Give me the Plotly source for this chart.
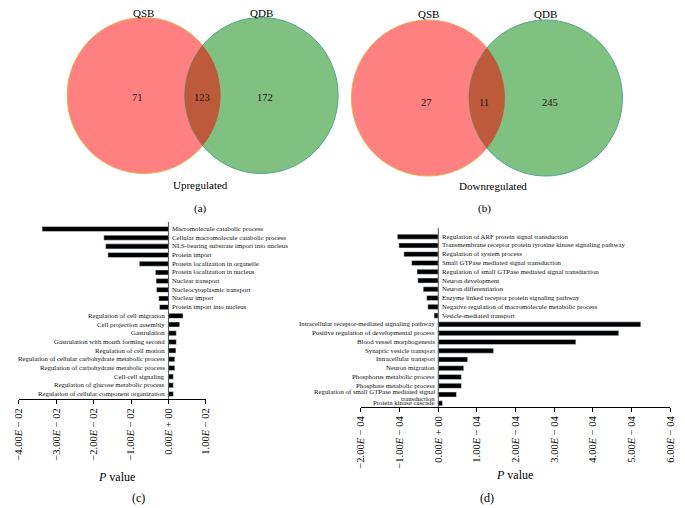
import numpy as np
import plotly.graph_objects as go

# ---------------- data ----------------
venn_sets = ["QSB", "QDB"]
up_counts = [71, 123, 172]      # QSB only, both, QDB only
down_counts = [27, 11, 245]

c_terms = [
    "Macromolecule catabolic process",
    "Cellular macromolecule catabolic process",
    "NLS-bearing substrate import into nucleus",
    "Protein import",
    "Protein localization in organelle",
    "Protein localization in nucleus",
    "Nuclear transport",
    "Nucleocytoplasmic transport",
    "Nuclear import",
    "Protein import into nucleus",
    "Regulation of cell migration",
    "Cell projection assembly",
    "Gastrulation",
    "Gastrulation with mouth forming second",
    "Regulation of cell motion",
    "Regulation of cellular carbohydrate metabolic process",
    "Regulation of carbohydrate metabolic process",
    "Cell-cell signaling",
    "Regulation of glucose metabolic process",
    "Regulation of cellular component organization",
]
c_values = [-0.0338, -0.0173, -0.0168, -0.0162, -0.0078, -0.0035, -0.0033, -0.0032,
            -0.0026, -0.0024, 0.0039, 0.0030, 0.0021, 0.0021, 0.0020, 0.0017,
            0.0017, 0.0013, 0.0013, 0.0013]

d_terms = [
    "Regulation of ARF protein signal transduction",
    "Transmembrane receptor protein tyrosine kinase signaling pathway",
    "Regulation of system process",
    "Small GTPase mediated signal transduction",
    "Regulation of small GTPase mediated signal transduction",
    "Neuron development",
    "Neuron differentiation",
    "Enzyme linked receptor protein signaling pathway",
    "Negative regulation of macromolecule metabolic process",
    "Vesicle-mediated transport",
    "Intracellular receptor-mediated signaling pathway",
    "Positive regulation of developmental process",
    "Blood vessel morphogenesis",
    "Synaptic vesicle transport",
    "Intracellular transport",
    "Neuron migration",
    "Phosphorus metabolic process",
    "Phosphate metabolic process",
    "Regulation of small GTPase mediated signal<br>transduction",
    "Protein kinase cascade",
]
d_values = [-1.06e-4, -1.02e-4, -0.89e-4, -0.69e-4, -0.55e-4, -0.53e-4, -0.39e-4,
            -0.30e-4, -0.27e-4, -0.11e-4, 5.24e-4, 4.67e-4, 3.56e-4, 1.43e-4,
            0.76e-4, 0.66e-4, 0.60e-4, 0.60e-4, 0.47e-4, 0.11e-4]

c_ticks = [-0.04, -0.03, -0.02, -0.01, 0.0, 0.01]
c_ticktext = ["−4.00<i>E</i> − 02", "−3.00<i>E</i> − 02", "−2.00<i>E</i> − 02",
              "−1.00<i>E</i> − 02", "0.00<i>E</i> + 00", "1.00<i>E</i> − 02"]
d_ticks = [-2e-4, -1e-4, 0, 1e-4, 2e-4, 3e-4, 4e-4, 5e-4, 6e-4]
d_ticktext = ["−2.00<i>E</i> − 04", "−1.00<i>E</i> − 04", "0.00<i>E</i> + 00",
              "1.00<i>E</i> − 04", "2.00<i>E</i> − 04", "3.00<i>E</i> − 04",
              "4.00<i>E</i> − 04", "5.00<i>E</i> − 04", "6.00<i>E</i> − 04"]

# ---------------- layout helpers ----------------
PAGE_W, PAGE_H = 685, 508
OFF = 8                      # default body margin of the html page
W, H = PAGE_W - OFF, PAGE_H - OFF
SERIF = "Liberation Serif"

def px(x):
    return (x - OFF) / W

def py(y):
    return 1 - (y - OFF) / H

fig = go.Figure()

fig.add_trace(go.Bar(x=c_values, y=c_terms, orientation="h", marker_color="black",
                     width=0.58, xaxis="x", yaxis="y", showlegend=False))
fig.add_trace(go.Bar(x=d_values, y=d_terms, orientation="h", marker_color="black",
                     width=0.58, xaxis="x2", yaxis="y2", showlegend=False))
# invisible trace for the page-pixel overlay axis
fig.add_trace(go.Scatter(x=[OFF], y=[OFF], xaxis="x3", yaxis="y3", mode="markers",
                         marker=dict(opacity=0), showlegend=False, hoverinfo="skip"))

# row geometry for panel c: 20 rows from 229 to 394 px, domain 222-399
c_top, c_bot, c_r0, c_r1 = 222, 399, 229, 394
c_step = (c_r1 - c_r0) / (len(c_terms) - 1)
c_range = [len(c_terms) - 1 + (c_bot - c_r1) / c_step, -(c_r0 - c_top) / c_step]

d_top, d_bot, d_r0, d_r1 = 228, 407, 236.7, 403.3
d_step = (d_r1 - d_r0) / (len(d_terms) - 1)
d_range = [len(d_terms) - 1 + (d_bot - d_r1) / d_step, -(d_r0 - d_top) / d_step]

tickfont = dict(family=SERIF, size=10.5, color="black")

fig.update_layout(
    width=W, height=H, margin=dict(l=0, r=0, t=0, b=0),
    paper_bgcolor="white", plot_bgcolor="rgba(0,0,0,0)",
    xaxis=dict(domain=[px(13), px(203)], range=[-0.04, 0.01], tickvals=c_ticks,
               ticktext=c_ticktext, tickangle=-90, ticks="outside", ticklen=4,
               tickcolor="black", showline=True, linecolor="black", linewidth=1,
               showgrid=False, zeroline=False, tickfont=tickfont, anchor="y"),
    yaxis=dict(domain=[py(c_bot), py(c_top)], type="category", range=c_range,
               categoryorder="array", categoryarray=c_terms, showticklabels=False,
               showgrid=False, zeroline=False, showline=False, ticks="", anchor="x"),
    xaxis2=dict(domain=[px(360.7), px(675)], range=[-2e-4, 6e-4], tickvals=d_ticks,
                ticktext=d_ticktext, tickangle=-90, ticks="outside", ticklen=4,
                tickcolor="black", showline=True, linecolor="black", linewidth=1,
                showgrid=False, zeroline=False, tickfont=tickfont, anchor="y2"),
    yaxis2=dict(domain=[py(d_bot), py(d_top)], type="category", range=d_range,
                categoryorder="array", categoryarray=d_terms, showticklabels=False,
                showgrid=False, zeroline=False, showline=False, ticks="", anchor="x2"),
    xaxis3=dict(domain=[0, 1], range=[OFF, PAGE_W], visible=False, anchor="y3", fixedrange=True),
    yaxis3=dict(domain=[0, 1], range=[PAGE_H, OFF], visible=False, anchor="x3", fixedrange=True),
)

shapes = []
annotations = []

# zero lines of bar charts
for xr, yr in (("x", "y"), ("x2", "y2")):
    shapes.append(dict(type="line", xref=xr, yref=yr + " domain", x0=0, x1=0, y0=0, y1=1,
                       line=dict(color="#555", width=1)))

# bar labels
lab_font = dict(family=SERIF, size=6.8, color="#111")
for terms, vals, xr, yr in ((c_terms, c_values, "x", "y"), (d_terms, d_values, "x2", "y2")):
    for t, v in zip(terms, vals):
        base = dict(x=0, y=t, xref=xr, yref=yr, showarrow=False,
                    xanchor="left" if v < 0 else "right",
                    xshift=1.5 if v < 0 else -1.5, font=lab_font)
        lines = t.split("<br>")
        if len(lines) == 1:
            annotations.append(dict(base, text=t, yshift=0.5))
        else:
            annotations.append(dict(base, text=lines[0], yshift=3))
            annotations.append(dict(base, text=lines[1], yshift=-3.5))

# ---------------- Venn diagrams ----------------
RED = "#FF8080"
GREEN = "#80C080"
LENS = "#BE5A3C"

def lens_path(c1, c2, r):
    (x1, y1), (x2, y2) = c1, c2
    d = np.hypot(x2 - x1, y2 - y1)
    half = np.arccos(d / (2 * r))
    a1 = np.linspace(-half, half, 60)
    p1 = [(x1 + r * np.cos(a), y1 + r * np.sin(a)) for a in a1]
    a2 = np.linspace(np.pi - half, np.pi + half, 60)
    p2 = [(x2 + r * np.cos(a), y2 + r * np.sin(a)) for a in a2]
    pts = p1 + p2
    return "M " + " L ".join(f"{x:.2f},{y:.2f}" for x, y in pts) + " Z"

venns = [
    dict(c1=(140, 95.5), c2=(259.5, 95.5), r=78, counts=up_counts, label_y=12.5,
         num_y=97, num_x=[134, 199, 263], title="Upregulated", title_xy=(198, 185),
         tag="(a)", tag_xy=(198, 208)),
    dict(c1=(429, 98), c2=(548.5, 98), r=78, counts=down_counts, label_y=13.5,
         num_y=102, num_x=[427, 486, 553], title="Downregulated", title_xy=(495, 186),
         tag="(b)", tag_xy=(486, 208)),
]

for v in venns:
    (x1, y1), (x2, y2), r = v["c1"], v["c2"], v["r"]
    shapes.append(dict(type="circle", xref="x3", yref="y3", x0=x1 - r, x1=x1 + r,
                       y0=y1 - r, y1=y1 + r, fillcolor=RED,
                       line=dict(color="#E8B050", width=1), layer="below"))
    shapes.append(dict(type="circle", xref="x3", yref="y3", x0=x2 - r, x1=x2 + r,
                       y0=y2 - r, y1=y2 + r, fillcolor=GREEN,
                       line=dict(color="#4FA890", width=1), layer="below"))
    shapes.append(dict(type="path", xref="x3", yref="y3", path=lens_path(v["c1"], v["c2"], r),
                       fillcolor=LENS, line=dict(width=0), layer="below"))
    for name, cx in zip(venn_sets, (x1, x2)):
        annotations.append(dict(x=cx, y=v["label_y"], xref="x3", yref="y3", text=name,
                                showarrow=False, borderpad=0,
                                font=dict(family=SERIF, size=11, color="black")))
    for n, nx in zip(v["counts"], v["num_x"]):
        annotations.append(dict(x=nx, y=v["num_y"], xref="x3", yref="y3", text=str(n),
                                showarrow=False, font=dict(family=SERIF, size=10.5, color="#111")))
    annotations.append(dict(x=v["title_xy"][0], y=v["title_xy"][1], xref="x3", yref="y3",
                            text=v["title"], showarrow=False,
                            font=dict(family=SERIF, size=11, color="black")))
    annotations.append(dict(x=v["tag_xy"][0], y=v["tag_xy"][1], xref="x3", yref="y3",
                            text=v["tag"], showarrow=False,
                            font=dict(family=SERIF, size=11, color="black")))

# axis titles and panel tags for bar charts
for txt, xy in (("<i>P</i> value", (112, 477)), ("<i>P</i> value", (517, 475)),
                ("(c)", (135, 498)), ("(d)", (489, 498))):
    annotations.append(dict(x=xy[0], y=xy[1], xref="x3", yref="y3", text=txt,
                            showarrow=False, font=dict(family=SERIF, size=12, color="black")))

fig.update_layout(shapes=shapes, annotations=annotations)
fig.write_html("out.html")
